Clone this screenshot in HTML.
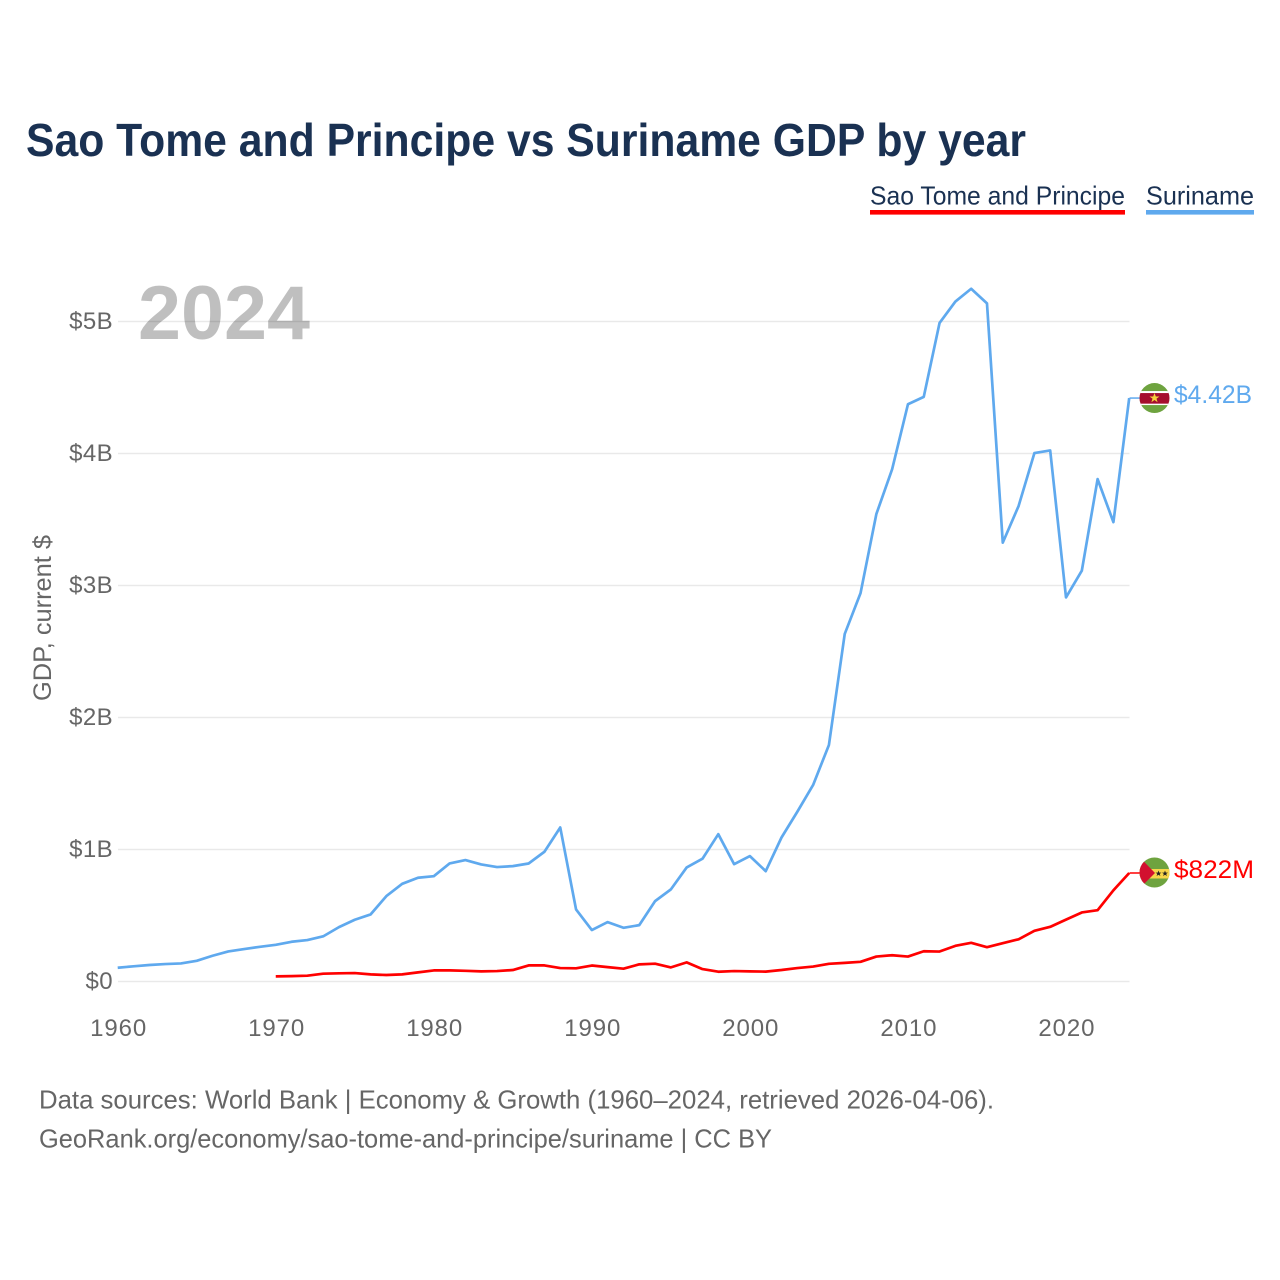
<!DOCTYPE html>
<html lang="en">
<head>
<meta charset="utf-8">
<title>Sao Tome and Principe vs Suriname GDP by year</title>
<style>
html,body{margin:0;padding:0;background:#fff;width:1280px;height:1280px;overflow:hidden}
svg{display:block;font-family:"Liberation Sans",Arial,sans-serif}
</style>
</head>
<body>
<svg id="chart" xmlns="http://www.w3.org/2000/svg" width="1280" height="1280" viewBox="0 0 1280 1280">
  <defs>
    <clipPath id="sr-clip"><circle cx="0" cy="0" r="15"/></clipPath>
    <clipPath id="st-clip"><circle cx="0" cy="0" r="15"/></clipPath>
  </defs>
  <text x="26" y="156" font-size="46" font-weight="700" fill="#1a3152" textLength="1000" lengthAdjust="spacingAndGlyphs">Sao Tome and Principe vs Suriname GDP by year</text>

  <g>
    <text x="870" y="204.5" font-size="26" fill="#1a3152" textLength="255" lengthAdjust="spacingAndGlyphs">Sao Tome and Principe</text>
    <rect x="870" y="210" width="255" height="4.6" fill="#ff0000"/>
  </g>
  <g>
    <text x="1146" y="204.5" font-size="26" fill="#1a3152" textLength="108" lengthAdjust="spacingAndGlyphs">Suriname</text>
    <rect x="1146" y="210" width="108" height="4.6" fill="#5fa9ee"/>
  </g>

  <g id="grid"></g>
  <g id="y-ticks"></g>
  <g id="x-ticks"></g>

  <text x="138" y="339" font-size="76" font-weight="700" fill="#000" fill-opacity="0.25" textLength="172" lengthAdjust="spacingAndGlyphs">2024</text>

  <text transform="translate(51,618) rotate(-90)" text-anchor="middle" font-size="25" fill="#666" textLength="166" lengthAdjust="spacingAndGlyphs">GDP, current $</text>

  <g id="series"></g>

  <g id="flag-suriname">
    <g clip-path="url(#sr-clip)">
      <rect x="-16" y="-16" width="32" height="32" fill="#6ea33f"/>
      <rect x="-16" y="-7" width="32" height="14" fill="#ffffff"/>
      <rect x="-16" y="-5" width="32" height="10.6" fill="#a50e2d"/>
      <polygon points="0,-5 1.3,-1.6 5,-1.6 2,0.6 3.1,4.2 0,2 -3.1,4.2 -2,0.6 -5,-1.6 -1.3,-1.6" fill="#f5d33b"/>
    </g>
  </g>
  <g id="flag-sao-tome">
    <g clip-path="url(#st-clip)">
      <rect x="-16" y="-16" width="32" height="32" fill="#6ea33f"/>
      <rect x="-16" y="-3.5" width="32" height="9.5" fill="#f7d64a"/>
      <polygon points="-16,-16 -15,-15.5 0.5,0.5 -15,16 -16,16" fill="#d2102f"/>
      <polygon points="4,-2 4.8,0.1 7,0.1 5.2,1.4 5.9,3.5 4,2.2 2.1,3.5 2.8,1.4 1,0.1 3.2,0.1" fill="#222"/>
      <polygon points="10.5,-2 11.3,0.1 13.5,0.1 11.7,1.4 12.4,3.5 10.5,2.2 8.6,3.5 9.3,1.4 7.5,0.1 9.7,0.1" fill="#222"/>
    </g>
  </g>

  <text id="value-suriname" x="1174" font-size="25" fill="#5fa9ee" textLength="78" lengthAdjust="spacingAndGlyphs"></text>
  <text id="value-sao-tome" x="1174" font-size="25" fill="#ff0000" textLength="80" lengthAdjust="spacingAndGlyphs"></text>

  <text x="39" y="1108.5" font-size="26" fill="#666" textLength="955" lengthAdjust="spacingAndGlyphs">Data sources: World Bank | Economy &amp; Growth (1960–2024, retrieved 2026-04-06).</text>
  <text x="39" y="1147.5" font-size="26" fill="#666" textLength="733" lengthAdjust="spacingAndGlyphs">GeoRank.org/economy/sao-tome-and-principe/suriname | CC BY</text>
</svg>
<script>
// Years run 1960..2024; values are GDP in billions of current US$.
const firstYear = 1960;
const xTickYears = [1960, 1970, 1980, 1990, 2000, 2010, 2020];
const yTickValues = [0, 1, 2, 3, 4, 5];
const yTickLabels = ['$0', '$1B', '$2B', '$3B', '$4B', '$5B'];
const surinameValues = [
  0.104,0.115,0.125,0.132,0.137,0.157,0.195,0.228,0.246,0.263,
  0.278,0.301,0.314,0.342,0.412,0.468,0.508,0.647,0.740,0.786,
  0.798,0.894,0.920,0.887,0.867,0.874,0.894,0.983,1.167,0.546,
  0.390,0.450,0.407,0.427,0.609,0.698,0.864,0.930,1.116,0.889,
  0.950,0.836,1.091,1.286,1.489,1.792,2.633,2.942,3.541,3.881,
  4.373,4.429,4.989,5.151,5.248,5.137,3.325,3.602,4.003,4.023,
  2.910,3.112,3.806,3.480,4.420
];
const saoTomeValues = [
  null,null,null,null,null,null,null,null,null,null,
  0.039,0.041,0.044,0.059,0.062,0.064,0.054,0.049,0.054,0.069,
  0.084,0.084,0.081,0.077,0.079,0.087,0.122,0.122,0.102,0.100,
  0.121,0.109,0.097,0.130,0.135,0.107,0.145,0.094,0.074,0.079,
  0.077,0.075,0.087,0.102,0.113,0.134,0.141,0.149,0.189,0.199,
  0.189,0.229,0.227,0.270,0.293,0.260,0.290,0.320,0.384,0.414,
  0.469,0.523,0.540,0.691,0.822
];
const surinameLabel = '$4.42B';
const saoTomeLabel = '$822M';

const SVG_NS = 'http://www.w3.org/2000/svg';
const xScale = function (year) { return 118 + (year - 1960) * 15.805; };
const yScale = function (value) { return 981.5 - value * 132; };
const plotRight = xScale(2024);

function linePoints(values) {
  const pts = [];
  values.forEach(function (v, i) {
    if (v !== null) pts.push((xScale(firstYear + i) - 0.3).toFixed(2) + ',' + yScale(v).toFixed(2));
  });
  return pts.join(' ');
}

const gridGroup = document.getElementById('grid');
const yGroup = document.getElementById('y-ticks');
yTickValues.forEach(function (v, i) {
  const line = document.createElementNS(SVG_NS, 'line');
  
  
  line.setAttribute('x1', 118);
  line.setAttribute('x2', plotRight);
  line.setAttribute('y1', yScale(v));
  line.setAttribute('y2', yScale(v));
  line.setAttribute('stroke', '#e9e9e9');
  line.setAttribute('stroke-width', '1.5');
  gridGroup.appendChild(line);

  const label = document.createElementNS(SVG_NS, 'text');
  
  
  label.setAttribute('x', 113);
  label.setAttribute('y', yScale(v) + 7.5);
  label.setAttribute('text-anchor', 'end');
  label.setAttribute('font-size', '24');
  label.setAttribute('letter-spacing', '0.4');
  label.setAttribute('fill', '#666');
  label.textContent = yTickLabels[i];
  yGroup.appendChild(label);
});

const xGroup = document.getElementById('x-ticks');
xTickYears.forEach(function (year) {
  const label = document.createElementNS(SVG_NS, 'text');
  
  
  label.setAttribute('x', xScale(year) + 0.6);
  label.setAttribute('y', 1036);
  label.setAttribute('text-anchor', 'middle');
  label.setAttribute('font-size', '24');
  label.setAttribute('letter-spacing', '0.9');
  label.setAttribute('fill', '#666');
  label.textContent = String(year);
  xGroup.appendChild(label);
});

const seriesGroup = document.getElementById('series');

const surinameLine = document.createElementNS(SVG_NS, 'polyline');


surinameLine.setAttribute('points', linePoints(surinameValues));
surinameLine.setAttribute('fill', 'none');
surinameLine.setAttribute('stroke', '#5fa9ee');
surinameLine.setAttribute('stroke-width', '2.7');
surinameLine.setAttribute('stroke-linejoin', 'round');
seriesGroup.appendChild(surinameLine);

const saoTomeLine = document.createElementNS(SVG_NS, 'polyline');


saoTomeLine.setAttribute('points', linePoints(saoTomeValues));
saoTomeLine.setAttribute('fill', 'none');
saoTomeLine.setAttribute('stroke', '#ff0000');
saoTomeLine.setAttribute('stroke-width', '2.7');
saoTomeLine.setAttribute('stroke-linejoin', 'round');
seriesGroup.appendChild(saoTomeLine);

const surinameEndY = yScale(surinameValues[surinameValues.length - 1]);
const saoTomeEndY = yScale(saoTomeValues[saoTomeValues.length - 1]);

const surinameConnector = document.createElementNS(SVG_NS, 'line');


surinameConnector.setAttribute('x1', plotRight);
surinameConnector.setAttribute('x2', plotRight + 10);
surinameConnector.setAttribute('y1', surinameEndY);
surinameConnector.setAttribute('y2', surinameEndY);
surinameConnector.setAttribute('stroke', '#5fa9ee');
surinameConnector.setAttribute('stroke-width', '1.5');
seriesGroup.appendChild(surinameConnector);

const saoTomeConnector = document.createElementNS(SVG_NS, 'line');


saoTomeConnector.setAttribute('x1', plotRight);
saoTomeConnector.setAttribute('x2', plotRight + 10);
saoTomeConnector.setAttribute('y1', saoTomeEndY);
saoTomeConnector.setAttribute('y2', saoTomeEndY);
saoTomeConnector.setAttribute('stroke', '#ff0000');
saoTomeConnector.setAttribute('stroke-width', '1.5');
seriesGroup.appendChild(saoTomeConnector);

document.getElementById('flag-suriname').setAttribute('transform', 'translate(1154.5,' + surinameEndY + ')');
document.getElementById('flag-sao-tome').setAttribute('transform', 'translate(1154.5,' + (saoTomeEndY - 0.5) + ')');

const surinameValueText = document.getElementById('value-suriname');
surinameValueText.setAttribute('y', surinameEndY + 5);
surinameValueText.textContent = surinameLabel;

const saoTomeValueText = document.getElementById('value-sao-tome');
saoTomeValueText.setAttribute('y', saoTomeEndY + 5);
saoTomeValueText.textContent = saoTomeLabel;
</script>
</body>
</html>
